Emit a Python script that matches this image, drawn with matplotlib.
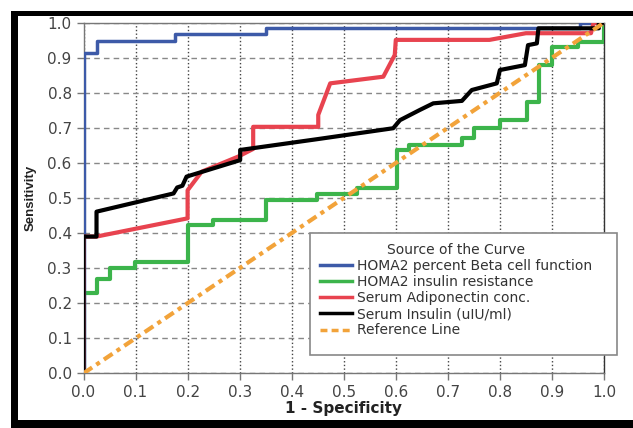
import matplotlib.pyplot as plt
from matplotlib.patches import Rectangle
import numpy as np

# ROC curves (1 - specificity, sensitivity)
beta_x = [0, 0, 0.026, 0.026, 0.176, 0.176, 0.35, 0.35, 0.953, 0.953, 1.0]
beta_y = [0, 0.914, 0.914, 0.949, 0.949, 0.968, 0.968, 0.984, 0.984, 1.0, 1.0]

ir_x = [0, 0, 0.025, 0.025, 0.051, 0.051, 0.099, 0.099, 0.201, 0.201, 0.249, 0.249,
        0.35, 0.35, 0.448, 0.448, 0.525, 0.525, 0.602, 0.602, 0.625, 0.625, 0.727,
        0.727, 0.75, 0.75, 0.80, 0.80, 0.853, 0.853, 0.875, 0.875, 0.90, 0.90,
        0.95, 0.95, 1.0, 1.0]
ir_y = [0, 0.228, 0.228, 0.268, 0.268, 0.30, 0.30, 0.318, 0.318, 0.423, 0.423, 0.437,
        0.437, 0.494, 0.494, 0.51, 0.51, 0.528, 0.528, 0.637, 0.637, 0.651, 0.651,
        0.672, 0.672, 0.70, 0.70, 0.722, 0.722, 0.775, 0.775, 0.879, 0.879, 0.932,
        0.932, 0.946, 0.946, 1.0]

adipo_x = [0, 0, 0.025, 0.2, 0.2, 0.227, 0.297, 0.326, 0.326, 0.451, 0.451, 0.474,
           0.576, 0.598, 0.6, 0.78, 0.85, 0.975, 0.98, 1.0]
adipo_y = [0, 0.39, 0.39, 0.442, 0.522, 0.575, 0.618, 0.64, 0.703, 0.703, 0.737, 0.827,
           0.846, 0.908, 0.951, 0.951, 0.97, 0.97, 1.0, 1.0]

ins_x = [0, 0, 0.025, 0.025, 0.173, 0.18, 0.19, 0.198, 0.301, 0.301, 0.45, 0.595,
         0.608, 0.646, 0.672, 0.727, 0.746, 0.794, 0.80, 0.848, 0.854, 0.871, 0.874,
         0.99, 0.99, 1.0]
ins_y = [0, 0.39, 0.39, 0.461, 0.513, 0.53, 0.535, 0.561, 0.608, 0.637, 0.668, 0.699,
         0.722, 0.751, 0.77, 0.777, 0.808, 0.827, 0.865, 0.879, 0.936, 0.941, 0.984,
         0.984, 1.0, 1.0]

ref_x = [0, 1]
ref_y = [0, 1]

labels = ["HOMA2 percent Beta cell function", "HOMA2 insulin resistance",
          "Serum Adiponectin conc.", "Serum Insulin (uIU/ml)", "Reference Line"]

W, H = 633, 428
fig = plt.figure(figsize=(W / 100, H / 100), dpi=100)
ax = fig.add_axes([83.5 / W, 1 - 373.3 / H, (604 - 83.5) / W, (373.3 - 22.7) / H])

ax.plot(ir_x, ir_y, color="#3cb44b", lw=3, zorder=3, label=labels[1])
ax.plot(beta_x, beta_y, color="#3d5aa8", lw=2.5, zorder=3, label=labels[0])
ax.plot(adipo_x, adipo_y, color="#e8434f", lw=3, zorder=4, label=labels[2])
ax.plot(ins_x, ins_y, color="black", lw=3, zorder=5, label=labels[3])
ax.plot(ref_x, ref_y, color="#f2a33a", lw=3, ls=(0, (2.5, 1.2, 1, 1.2)), zorder=6,
        label=labels[4])

ax.set_xlim(0, 1)
ax.set_ylim(0, 1)
ticks = np.arange(0, 1.01, 0.1)
ax.set_xticks(ticks)
ax.set_yticks(ticks)
ax.set_xticklabels([f"{t:.1f}" for t in ticks])
ax.set_yticklabels([f"{t:.1f}" for t in ticks])
ax.tick_params(direction="out", length=5, width=1, color="#777777",
               labelcolor="#444444", labelsize=11)
ax.xaxis.grid(True, ls=":", color="#444444", lw=1)
ax.yaxis.grid(True, ls=(0, (4, 3)), color="#888888", lw=1)
ax.set_axisbelow(True)
for s in ax.spines.values():
    s.set_color("#777777")
    s.set_linewidth(1)
ax.spines["right"].set_color("#333333")

ax.set_xlabel("1 - Specificity", fontsize=11, fontweight="bold", color="#222222",
              labelpad=1)
ax.set_ylabel("Sensitivity", fontsize=9.5, fontweight="bold", color="#222222",
              family="Liberation Sans", labelpad=8)

# legend in its own box
handles, labs = ax.get_legend_handles_labels()
order = [1, 0, 2, 3, 4]
leg = ax.legend([handles[i] for i in order], [labs[i] for i in order],
                title="Source of the Curve", frameon=False, loc="upper left",
                bbox_to_anchor=(313 / W, 1 - 236 / H), bbox_transform=fig.transFigure,
                fontsize=10, title_fontsize=10, handlelength=2.3, handletextpad=0.4,
                labelspacing=0.15, borderpad=0)
for t in leg.get_texts():
    t.set_color("#333333")
for ln in leg.get_lines():
    ln.set_linewidth(2.5)
leg.get_lines()[-1].set_linestyle((0, (2, 1.2)))
leg.get_title().set_color("#333333")
leg.set_zorder(11)
box = Rectangle((310 / W, 1 - 355 / H), (617 - 310) / W, (355 - 233) / H,
                transform=fig.transFigure, facecolor="white", edgecolor="#888888",
                lw=1.2, zorder=10)
fig.add_artist(box)
fig.add_artist(leg)

# black picture frame
frame = dict(transform=fig.transFigure, facecolor="black", edgecolor="none")
fig.add_artist(Rectangle((11 / W, 0), 7 / W, 1 - 11 / H, **frame))
fig.add_artist(Rectangle((11 / W, 1 - 16 / H), 1, 5 / H, **frame))
fig.add_artist(Rectangle((11 / W, 0), 1, 8 / H, **frame))

fig.savefig("out.png", dpi=100)
